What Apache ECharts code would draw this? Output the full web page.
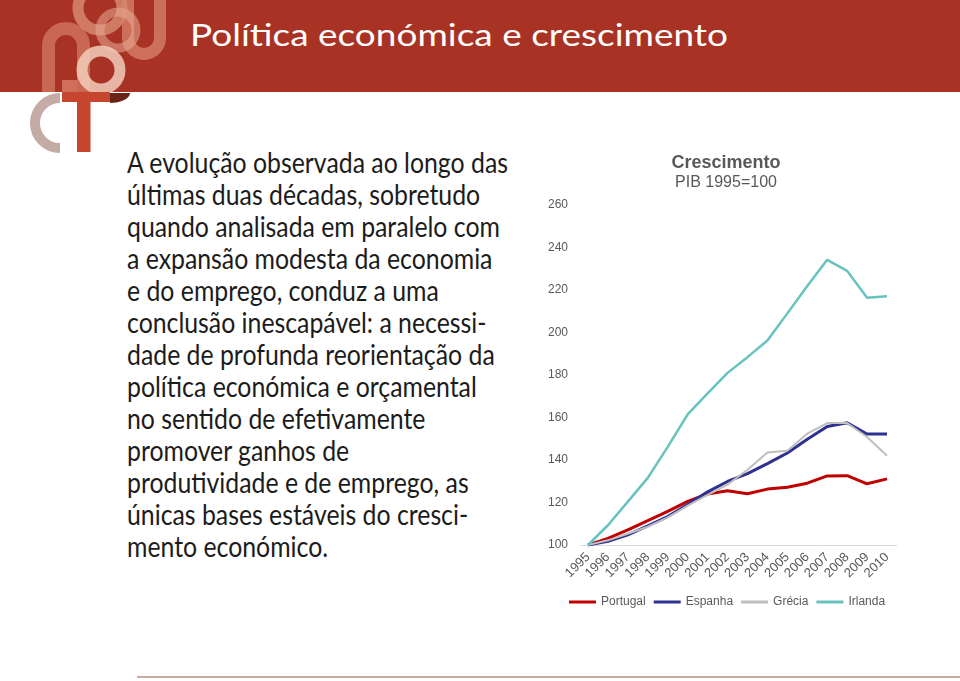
<!DOCTYPE html>
<html>
<head>
<meta charset="utf-8">
<script src="https://cdn.jsdelivr.net/npm/echarts@6/dist/echarts.min.js"></script>
<style>
  html, body { margin:0; padding:0; width:960px; height:681px; background:#fff; overflow:hidden; }
  #band { position:absolute; left:0; top:0; width:960px; height:92px; background:#A83224; }
  #logo { position:absolute; left:0; top:0; }
  #title { position:absolute; left:190px; top:19px; font-family:Lato, 'Open Sans', sans-serif; font-size:31px; line-height:31px; color:#fff; white-space:nowrap; transform-origin:0 0; }
  #para { position:absolute; left:127px; top:145.5px; font-family:Lato, 'Open Sans', sans-serif; font-size:28px; line-height:32px; color:#1c1c1c; white-space:nowrap; transform-origin:0 0; }
  #para div { height:32px; }
  #rule { position:absolute; left:137px; top:676px; width:823px; height:2px; background:#C9ABA3; }
  #chart { position:absolute; left:0; top:0; width:960px; height:681px; }
</style>
</head>
<body>
<div id="band"></div>
<svg id="logo" width="200" height="160">
  <defs><clipPath id="bandclip"><rect x="0" y="0" width="200" height="92"/></clipPath></defs>
  <g clip-path="url(#bandclip)" fill="none">
    <path d="M48.5,92 V46 A17.5,17.5 0 0 1 83.5,46 V92" stroke="#D37B62" stroke-opacity="0.75" stroke-width="13"/>
    <circle cx="100" cy="8" r="22" stroke="#E09A80" stroke-opacity="0.7" stroke-width="11"/>
    <path d="M128,0 V38 A16,16 0 0 0 160,38 V0" stroke="#D9866C" stroke-opacity="0.75" stroke-width="12"/>
    <circle cx="118" cy="30" r="18" stroke="#E6AC94" stroke-opacity="0.55" stroke-width="9"/>
    <circle cx="101" cy="70" r="19" stroke="#F2CDBB" stroke-opacity="0.85" stroke-width="11"/>
    <rect x="62" y="80" width="15" height="12" fill="#D97E66" fill-opacity="0.8"/>
  </g>
  <path d="M60,98 A25,25 0 0 0 60,148" fill="none" stroke="#C4ABA5" stroke-width="10"/>
  <rect x="62" y="92" width="48" height="10" fill="#C6452F"/>
  <rect x="77" y="92" width="13.5" height="60" fill="#C6452F"/>
  <path d="M110,93 H130 A20,10 0 0 1 110,103 Z" fill="#6A2416"/>
</svg>
<div id="title">Política económica e crescimento</div>
<div id="para">
  <div>A evolução observada ao longo das</div>
  <div>últimas duas décadas, sobretudo</div>
  <div>quando analisada em paralelo com</div>
  <div>a expansão modesta da economia</div>
  <div>e do emprego, conduz a uma</div>
  <div>conclusão inescapável: a necessi-</div>
  <div>dade de profunda reorientação da</div>
  <div>política económica e orçamental</div>
  <div>no sentido de efetivamente</div>
  <div>promover ganhos de</div>
  <div>produtividade e de emprego, as</div>
  <div>únicas bases estáveis do cresci-</div>
  <div>mento económico.</div>
</div>
<div id="rule"></div>
<div id="chart"></div>
<script>
const years = [1995,1996,1997,1998,1999,2000,2001,2002,2003,2004,2005,2006,2007,2008,2009,2010];
const seriesNames = ['Portugal','Espanha','Grécia','Irlanda'];
const portugal = [100,103.1,107.1,111.5,115.8,120.5,124.0,125.5,124.1,126.3,127.2,129.1,132.5,132.6,128.8,131.1];
const espanha  = [100,101.7,104.8,109.0,113.4,119.0,125.0,129.9,133.6,138.3,143.3,149.8,155.8,157.5,152.2,152.2];
const grecia   = [100,102.2,105.3,108.6,113.0,118.5,123.6,128.4,135.4,143.5,144.4,152.4,157.4,157.4,150.8,142.0];
const irlanda  = [100,109.3,120.4,131.6,146.2,161.5,171.4,181.0,188.4,196.2,209.0,221.9,234.2,229.0,216.3,217.1];
const colors = ['#C00000','#2E3192','#BFBFBF','#68C2BE'];
const widths = [3,3,2,2.5];
const values = [portugal, espanha, grecia, irlanda];

// fit slide texts horizontally
function fit(id, el, target) {
  const node = document.getElementById(id);
  const w = el.getBoundingClientRect().width;
  node.style.transform = 'scaleX(' + (target / w) + ')';
}
const paraFirst = document.querySelector('#para div');
const probe = document.createElement('span'); probe.textContent = paraFirst.textContent; paraFirst.textContent=''; paraFirst.appendChild(probe);
fit('para', probe, 381);
const t = document.getElementById('title');
const tp = document.createElement('span'); tp.textContent = t.textContent; t.textContent=''; t.appendChild(tp);
fit('title', tp, 538);

const chart = echarts.init(document.getElementById('chart'), null, {renderer:'canvas'});
const font = "'Liberation Sans', Arial, sans-serif";
chart.setOption({
  animation: false,
  backgroundColor: 'transparent',
  title: {
    text: 'Crescimento', subtext: 'PIB 1995=100',
    left: 721, top: 149, textAlign: 'center', itemGap: 3,
    textStyle: { fontFamily: font, fontSize: 18, fontWeight: 'bold', color: '#595959' },
    subtextStyle: { fontFamily: font, fontSize: 16, color: '#595959' }
  },
  legend: {
    data: seriesNames, left: 564, top: 591, icon: 'rect', itemWidth: 27, itemHeight: 3, itemGap: 8,
    textStyle: { fontFamily: font, fontSize: 12, color: '#595959' }
  },
  grid: { left: 580, right: 63, top: 205, bottom: 136, containLabel: false },
  xAxis: {
    type: 'value', min: 1994.6, max: 2010.5,
    axisLine: { show: true, lineStyle: { color: '#D9D9D9', width: 1 } },
    axisTick: { show: false }, splitLine: { show: false },
    axisLabel: { customValues: years, rotate: 45, margin: 10, color: '#595959', fontFamily: font, fontSize: 13, formatter: v => String(v) }
  },
  yAxis: {
    type: 'value', min: 100, max: 260, interval: 20,
    axisLine: { show: false }, axisTick: { show: false }, splitLine: { show: false },
    axisLabel: { margin: 12, color: '#595959', fontFamily: font, fontSize: 12 }
  },
  series: seriesNames.map((n, k) => ({
    name: n, type: 'line', symbol: 'none', color: colors[k],
    lineStyle: { width: widths[k], color: colors[k] },
    emphasis: { disabled: true },
    data: years.map((y, i) => [y, values[k][i]])
  }))
});
</script>
</body>
</html>
